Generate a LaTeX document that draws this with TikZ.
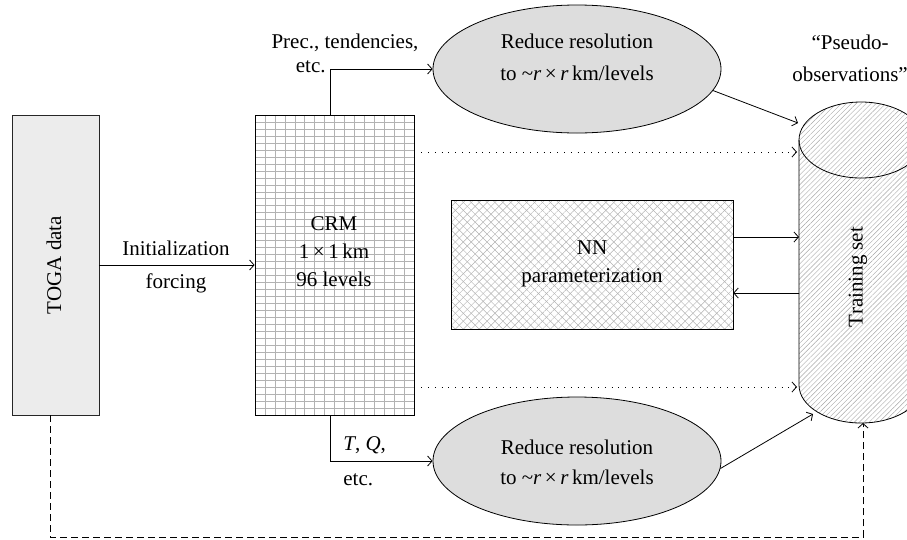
\documentclass[tikz,border=0pt]{standalone}
\usepackage{fontspec}
\setmainfont{Liberation Serif}
\usetikzlibrary{shapes.geometric,arrows.meta,patterns.meta}
\begin{document}
\begin{tikzpicture}[x=1pt,y=-1pt,
  line width=0.8pt,
  txt/.style={inner sep=0pt, align=center, font=\fontsize{21}{28}\selectfont},
  arr/.style={draw, -{Straight Barb[length=4.5pt,width=10pt,line width=0.8pt]}},
  dotarr/.style={draw, dash pattern=on 0.8pt off 6pt, -{Straight Barb[length=4.5pt,width=10pt,line width=0.8pt]}},
  dasharr/.style={draw, dash pattern=on 7pt off 4pt, -{Straight Barb[length=4.5pt,width=10pt,line width=0.8pt]}},
  gridline/.style={draw=gray!60, line width=0.5pt},
  redbox/.style={ellipse, draw, fill=gray!27, minimum width=288pt, minimum height=128pt, inner sep=0pt},
]
\useasboundingbox (0,0) rectangle (907,539);

% TOGA data
\node[draw=black!85, fill=gray!15, minimum width=87pt, minimum height=300pt, inner sep=0pt] (toga) at (55.5,265) {};
\node[txt, rotate=90] (togat) at (54,265) {TOGA data};

% CRM grid
\foreach \i in {1,...,15} \draw[gridline] (255+\i*159/16,115) -- (255+\i*159/16,415);
\foreach \j in {1,...,42} \draw[gridline] (255,115+\j*300/43) -- (414,115+\j*300/43);
\node[draw, minimum width=159pt, minimum height=300pt, inner sep=0pt] (crm) at (334.5,265) {};
\node[txt] (crmt) at (334,252) {CRM\\1\,×\,1\,km\\96 levels};

% NN
\node[draw, minimum width=282pt, minimum height=129pt, inner sep=0pt,
  preaction={pattern={Lines[angle=45,distance=5.6pt,line width=0.45pt]}, pattern color=gray!60},
  pattern={Lines[angle=-45,distance=5.6pt,line width=0.45pt]}, pattern color=gray!60] (nn) at (592,264.5) {};
\node[txt] (nnt) at (592,264) {NN\\parameterization};

% ellipses
\node[redbox] (e1) at (577,69) {};
\node[txt, font=\fontsize{21}{32}\selectfont] (e1t) at (577,57) {Reduce resolution\\to \textasciitilde\textit{r}\,×\,\textit{r}\,km/levels};
\node[redbox] (e2) at (577,461) {};
\node[txt, font=\fontsize{21}{30}\selectfont] (e2t) at (577,462) {Reduce resolution\\to \textasciitilde\textit{r}\,×\,\textit{r}\,km/levels};

% cylinder
\path[pattern={Lines[angle=45,distance=3.5pt,line width=0.4pt]}, pattern color=gray!70]
  (799,140) -- (799,385) arc[start angle=180,end angle=0,x radius=62,y radius=38]
  -- (923,140) arc[start angle=0,end angle=-180,x radius=62,y radius=38] -- cycle;
\draw (799,140) -- (799,385) arc[start angle=180,end angle=0,x radius=62,y radius=38]
  -- (923,140) arc[start angle=0,end angle=-180,x radius=62,y radius=38];
\draw (799,140) arc[start angle=180,end angle=0,x radius=62,y radius=38];
\node[txt, rotate=90] (tst) at (858,277) {Training set};
\node[txt, font=\fontsize{21}{32}\selectfont] (pseudo) at (850,58) {“Pseudo-\\observations”};

% connector end points on the cylinder
\coordinate (c1) at (798,123);
\coordinate (d1) at (797,152);
\coordinate (n1) at (799,237);
\coordinate (n2) at (799,293);
\coordinate (d2) at (797,387);
\coordinate (c2) at (813,414);
\coordinate (db) at (863,423);

% connectors
\draw[arr] (toga) -- (crm);
\node[txt, font=\fontsize{21}{33}\selectfont] (initt) at (176,267) {Initialization\\forcing};

\draw[arr] ([xshift=-4.5pt]crm.north) |- (e1.west);
\node[txt] (prect) at (345,43) {Prec., tendencies,};
\node[txt, anchor=east] (etc1) at (326,67) {etc.};

\draw[arr] ([xshift=-4.5pt]crm.south) |- (e2.west);
\node[txt, anchor=west] (tq) at (343,445) {\textit{T}, \textit{Q},};
\node[txt, anchor=west] (etc2) at (343,480) {etc.};

\draw[arr] (e1.-9.7) -- (c1);
\draw[arr] (e2.-3.6) -- (c2);
\draw[dotarr] (crm.east |- d1) -- (d1);
\draw[dotarr] (crm.east |- d2) -- (d2);
\draw[arr] (nn.east |- n1) -- (n1);
\draw[arr] (n2) -- (nn.east |- n2);
\draw[dasharr] ([xshift=-5.5pt]toga.south) -- ++(0,122) -| (db);
\end{tikzpicture}
\end{document}
